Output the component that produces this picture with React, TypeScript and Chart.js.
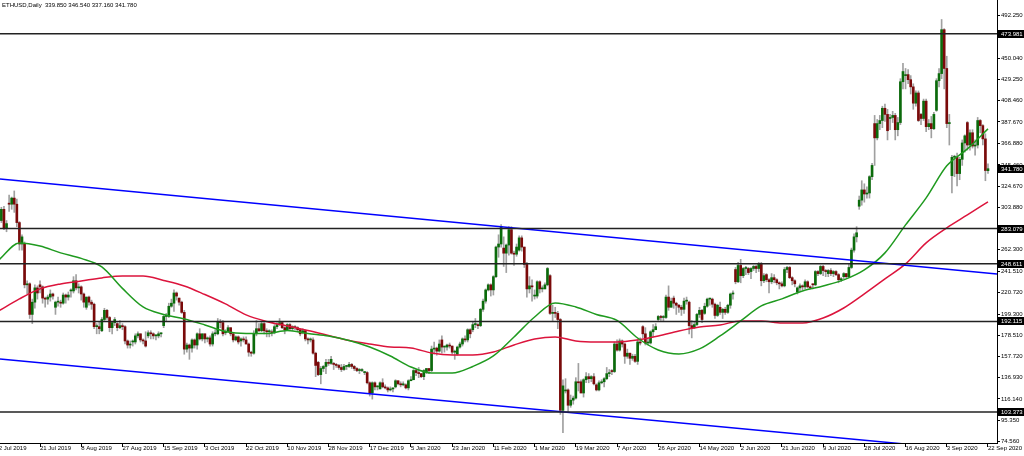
import React, { useEffect, useRef } from 'react';
import { Chart, registerables } from 'chart.js';

Chart.register(...registerables);

const symbolTitle = 'ETHUSD,Daily';
const dateLabels = ['2 Jul 2019', '21 Jul 2019', '8 Aug 2019', '27 Aug 2019', '15 Sep 2019', '3 Oct 2019', '22 Oct 2019', '10 Nov 2019', '28 Nov 2019', '17 Dec 2019', '5 Jan 2020', '23 Jan 2020', '11 Feb 2020', '1 Mar 2020', '19 Mar 2020', '7 Apr 2020', '26 Apr 2020', '14 May 2020', '2 Jun 2020', '21 Jun 2020', '9 Jul 2020', '28 Jul 2020', '16 Aug 2020', '3 Sep 2020', '22 Sep 2020'];
const barsPerLabel = 16;
const yTicks = [492.25, 471.46, 450.04, 429.25, 408.46, 387.67, 366.88, 345.46, 324.67, 303.88, 283.09, 262.3, 241.51, 220.72, 199.3, 178.51, 157.72, 136.93, 116.14, 95.35, 74.56];
const levels = [473.981, 283.079, 248.611, 192.115, 103.373];

const firstOpen = 293;
const lastOpen = 339.85;
// opens of the Sunday bars (bar 4, 10, 16, ...)
const sundayOpens = [308, 268, 228, 206, 222, 206, 183, 190, 172, 178, 188, 215, 174, 176, 181, 173, 180, 182, 184, 181, 152, 151, 148, 142, 126, 128, 134, 142, 174, 160, 184, 223, 264, 262, 217, 237, 124, 133, 130, 144, 158, 187, 194, 215, 211, 200, 206, 243, 241, 238, 229, 221, 229, 239, 236, 305, 386, 391, 433, 395, 399, 335, 387, 384];

const closes = [
  291, 302, 283, 288,
  307, 313, 307, 289, 268, 275,
  228, 229, 199, 211, 225, 220,
  226, 215, 214, 216, 219, 217,
  211, 211, 210, 218, 216, 218,
  222, 232, 225, 226, 219, 211,
  216, 211, 209, 187, 187, 185,
  194, 203, 196, 186, 191, 194,
  186, 188, 187, 173, 169, 169,
  172, 178, 180, 174, 173, 168,
  181, 180, 178, 178, 180, 180,
  197, 197, 207, 210, 220, 217,
  211, 201, 165, 169, 166, 174,
  169, 180, 175, 180, 175, 176,
  170, 180, 180, 192, 191, 180,
  182, 186, 180, 174, 177, 172,
  175, 174, 170, 162, 161, 180,
  185, 183, 190, 183, 182, 183,
  181, 187, 189, 191, 186, 184,
  189, 185, 187, 186, 184, 180,
  183, 175, 174, 174, 161, 149,
  140, 146, 148, 152, 151, 155,
  150, 149, 147, 145, 148, 148,
  150, 148, 146, 144, 144, 144,
  142, 132, 122, 132, 128, 128,
  132, 128, 127, 125, 126, 126,
  134, 131, 130, 130, 127, 134,
  135, 144, 142, 141, 138, 144,
  146, 144, 165, 166, 163, 170,
  167, 167, 169, 168, 162, 162,
  167, 170, 175, 174, 184, 180,
  189, 189, 188, 204, 212, 223,
  228, 223, 236, 265, 268, 285,
  259, 267, 282, 259, 258, 265,
  274, 265, 248, 224, 227, 226,
  217, 231, 224, 224, 228, 244,
  200, 201, 200, 194, 105, 129,
  125, 110, 115, 117, 133, 132,
  122, 135, 138, 136, 138, 131,
  125, 132, 133, 136, 141, 141,
  143, 170, 164, 173, 170, 158,
  161, 156, 158, 153, 172, 171,
  180, 171, 171, 182, 184, 187,
  197, 196, 196, 216, 206, 212,
  210, 208, 206, 204, 212, 212,
  188, 186, 189, 199, 203, 194,
  207, 214, 214, 209, 198, 208,
  201, 204, 201, 208, 219, 220,
  231, 247, 237, 244, 244, 240,
  244, 246, 244, 248, 232, 237,
  233, 231, 235, 233, 230, 229,
  227, 243, 245, 235, 232, 229,
  225, 227, 226, 231, 226, 225,
  228, 241, 239, 246, 242, 241,
  242, 239, 241, 238, 233, 233,
  239, 236, 245, 262, 275, 279,
  311, 321, 317, 318, 334, 345,
  372, 386, 389, 401, 395, 379,
  392, 394, 380, 387, 427, 437,
  434, 429, 422, 406, 416, 389,
  391, 408, 383, 386, 381, 395,
  428, 435, 478, 440, 386, 386,
  353, 353, 337, 351, 367, 374,
  365, 377, 364, 365, 389, 384,
  371, 340, 341.78,
];

const highs = [
  297, 304, 305, 291,
  316, 314, 320, 312, 290, 277,
  270, 232, 230, 214, 228, 227,
  232, 227, 216, 218, 223, 220,
  212, 216, 213, 220, 219, 221,
  224, 236, 238, 229, 227, 220,
  216, 217, 213, 210, 190, 192,
  196, 205, 204, 197, 192, 196,
  191, 193, 190, 188, 174, 173,
  174, 180, 182, 180, 175, 182,
  183, 183, 181, 179, 182, 181,
  198, 200, 210, 214, 223, 221,
  215, 212, 203, 171, 170, 175,
  175, 181, 185, 180, 180, 177,
  178, 182, 184, 195, 194, 193,
  184, 188, 186, 181, 178, 178,
  176, 177, 177, 171, 163, 183,
  193, 190, 192, 191, 185, 184,
  184, 189, 191, 195, 192, 187,
  190, 190, 188, 188, 187, 185,
  185, 184, 176, 176, 176, 162,
  153, 148, 149, 155, 155, 158,
  152, 151, 150, 150, 150, 149,
  152, 151, 149, 147, 146, 146,
  143, 143, 133, 133, 133, 129,
  133, 136, 130, 128, 128, 127,
  135, 134, 133, 133, 131, 135,
  138, 145, 145, 147, 141, 145,
  146, 146, 168, 172, 167, 174,
  178, 168, 170, 171, 168, 164,
  168, 172, 176, 178, 185, 185,
  192, 195, 190, 205, 214, 224,
  229, 229, 237, 266, 277, 287,
  275, 268, 285, 285, 261, 268,
  276, 276, 265, 250, 236, 233,
  223, 232, 232, 227, 230, 245,
  238, 208, 206, 202, 195, 135,
  136, 126, 120, 119, 137, 151,
  135, 136, 142, 141, 139, 141,
  131, 134, 135, 137, 147, 145,
  145, 172, 174, 175, 174, 171,
  165, 161, 160, 160, 175, 176,
  188, 186, 175, 183, 189, 190,
  198, 198, 198, 218, 227, 215,
  217, 211, 209, 208, 215, 216,
  212, 193, 192, 200, 206, 204,
  210, 215, 215, 215, 210, 209,
  211, 205, 206, 209, 220, 222,
  245, 250, 253, 245, 246, 245,
  245, 247, 247, 250, 250, 239,
  239, 234, 239, 238, 234, 231,
  231, 245, 246, 246, 236, 233,
  226, 229, 228, 233, 232, 227,
  229, 242, 242, 247, 247, 243,
  243, 244, 242, 242, 239, 235,
  240, 239, 248, 264, 278, 285,
  315, 330, 327, 324, 335, 347,
  394, 390, 394, 403, 405, 400,
  395, 398, 396, 392, 430, 445,
  440, 439, 433, 425, 418, 418,
  396, 410, 410, 390, 393, 397,
  430, 440, 488, 479, 452, 395,
  355, 355, 357, 353, 370, 375,
  388, 380, 380, 370, 392, 390,
  385, 376, 346.54,
];

const lows = [
  274, 289, 282, 280,
  300, 302, 299, 285, 262, 262,
  225, 219, 195, 190, 205, 214,
  220, 210, 206, 209, 212, 214,
  199, 207, 206, 209, 210, 213,
  216, 220, 223, 220, 213, 206,
  204, 208, 204, 185, 180, 180,
  182, 193, 194, 182, 180, 188,
  183, 185, 184, 170, 166, 166,
  168, 170, 176, 172, 170, 167,
  176, 175, 175, 174, 176, 177,
  186, 192, 196, 206, 202, 213,
  208, 200, 160, 162, 155, 162,
  166, 165, 174, 173, 171, 172,
  168, 168, 178, 179, 186, 178,
  179, 181, 178, 172, 173, 170,
  168, 172, 170, 158, 158, 160,
  178, 182, 182, 180, 177, 177,
  178, 180, 185, 188, 185, 180,
  183, 183, 183, 184, 182, 178,
  180, 173, 170, 172, 160, 138,
  139, 131, 143, 141, 149, 150,
  145, 147, 145, 143, 144, 145,
  147, 146, 144, 143, 141, 143,
  140, 131, 119, 116, 125, 125,
  126, 127, 126, 123, 124, 123,
  127, 130, 128, 129, 126, 125,
  134, 135, 139, 137, 137, 135,
  141, 141, 143, 160, 159, 162,
  161, 162, 164, 166, 160, 155,
  159, 166, 168, 172, 172, 176,
  182, 186, 185, 187, 202, 210,
  222, 217, 218, 235, 255, 265,
  246, 240, 257, 258, 247, 256,
  261, 261, 245, 216, 220, 212,
  214, 215, 220, 221, 224, 227,
  199, 193, 196, 185, 101, 83,
  122, 104, 108, 111, 116, 124,
  122, 118, 132, 132, 133, 130,
  124, 124, 131, 128, 135, 138,
  140, 142, 163, 163, 167, 151,
  156, 150, 154, 152, 150, 169,
  176, 169, 169, 170, 177, 184,
  192, 193, 192, 195, 203, 206,
  205, 199, 201, 198, 200, 209,
  180, 176, 185, 188, 196, 191,
  199, 206, 208, 206, 195, 197,
  199, 195, 199, 200, 205, 214,
  229, 230, 230, 235, 238, 238,
  234, 242, 240, 241, 227, 230,
  231, 220, 229, 230, 228, 224,
  226, 226, 240, 234, 228, 226,
  219, 222, 223, 224, 225, 224,
  224, 227, 237, 238, 237, 236,
  236, 237, 236, 237, 230, 231,
  234, 235, 235, 244, 260, 270,
  302, 306, 309, 313, 313, 331,
  345, 370, 380, 382, 388, 370,
  380, 387, 370, 374, 385, 420,
  420, 425, 415, 400, 403, 388,
  385, 389, 378, 380, 372, 380,
  398, 422, 430, 420, 382, 365,
  318, 334, 325, 331, 345, 358,
  360, 360, 362, 355, 362, 377,
  365, 330, 337.16,
];

// moving averages, sampled every 8 bars
const maBars = [0, 8, 16, 24, 32, 40, 48, 56, 64, 72, 80, 88, 96, 104, 112, 120, 128, 136, 144, 152, 160, 168, 176, 184, 192, 200, 208, 216, 224, 232, 240, 248, 256, 264, 272, 280, 288, 296, 304, 312, 320, 328, 336, 344, 352, 360, 368, 376, 384];
const greenMA = [252.4, 269.1, 266.1, 259.3, 253.9, 245.6, 224.5, 206.3, 199, 194.6, 188.7, 182.3, 180.3, 180.3, 183.3, 180.3, 177.9, 173.5, 167.1, 158.3, 147.5, 141.6, 141.6, 148, 158.3, 176.9, 196.5, 210.3, 206.3, 199, 193.1, 175.9, 164.2, 160.3, 165.2, 177.9, 192.6, 207.3, 214.2, 222, 226.9, 232.8, 242.6, 259.3, 286.7, 313.2, 344.6, 361.2, 380.8];
const redMA = [202.4, 214.2, 224, 228.9, 231.8, 234.8, 236.7, 236.7, 232.3, 226.9, 218.5, 209.3, 198.5, 192.1, 187.7, 183.3, 178.4, 173.5, 170, 167.1, 166.1, 161.2, 159.3, 159.3, 162.2, 169.1, 174.9, 176.9, 173, 172, 172, 174, 177.9, 182.8, 186.7, 188.7, 192.6, 192.6, 190.6, 190.6, 195.5, 205.3, 219.1, 233.8, 248.5, 269.1, 283.8, 296.5, 309.3];

// channel lines: [bar, price] end points
const upperTrend = [[0.466, 331.7], [387.5, 238.6]];
const lowerTrend = [[0.466, 155.3], [387.5, 63.5]];

const X_MIN = 0.466;
const X_MAX = 387.5;
const Y_MIN = 73.0;
const Y_MAX = 507.1;
const FONT = '"Liberation Sans", Arial, sans-serif';

export default function App() {
  const ref = useRef<HTMLCanvasElement | null>(null);

  useEffect(() => {
    document.body.style.margin = '0';
    const canvas = ref.current;
    if (!canvas) return;
    const last = closes.length - 1;
    const opens = closes.map((c, i) => {
      if (i === 0) return firstOpen;
      if (i === last) return lastOpen;
      if (i >= 4 && (i - 4) % 6 === 0) return sundayOpens[(i - 4) / 6];
      return closes[i - 1];
    });
    const wickData = closes.map((c, i) => ({
      x: i,
      y: [Math.min(lows[i], opens[i], c), Math.max(highs[i], opens[i], c)],
    }));
    const bodyData = closes.map((c, i) => ({ x: i, y: [opens[i], c] }));
    const bodyColors = closes.map((c, i) => (c >= opens[i] ? '#0b6b0b' : '#7a0a0a'));
    const title = `${symbolTitle}  ${lastOpen.toFixed(3)} ${highs[last].toFixed(3)} ${lows[last].toFixed(3)} ${closes[last].toFixed(3)}`;

    const lineDs = (data: { x: number; y: number }[], color: string, width: number, order: number, tension = 0) => ({
      type: 'line' as const,
      data,
      borderColor: color,
      borderWidth: width,
      pointRadius: 0,
      tension,
      cubicInterpolationMode: tension ? ('monotone' as const) : ('default' as const),
      fill: false,
      order,
      clip: 0,
    });

    const overlay = {
      id: 'overlay',
      afterDraw(chart: any) {
        const ctx = chart.ctx;
        const ys = chart.scales.y;
        ctx.save();
        ctx.font = `6px ${FONT}`;
        ctx.fillStyle = '#000';
        ctx.textBaseline = 'middle';
        ctx.textAlign = 'left';
        ctx.fillText(title, 2, 5);
        const boxes = [...levels, closes[last]];
        boxes.forEach((v) => {
          const y = ys.getPixelForValue(v);
          ctx.fillStyle = '#000';
          ctx.fillRect(998, Math.round(y) - 4, 26, 8);
          ctx.fillStyle = '#fff';
          ctx.fillText(v.toFixed(3), 1001, Math.round(y) + 0.5);
        });
        ctx.restore();
      },
    };

    const chart = new Chart(canvas, {
      type: 'bar',
      data: {
        datasets: [
          ...levels.map((v) => lineDs([{ x: X_MIN, y: v }, { x: X_MAX, y: v }], '#222', 1.5, 1)),
          lineDs(upperTrend.map(([x, y]) => ({ x, y })), '#0000ff', 1.5, 1),
          lineDs(lowerTrend.map(([x, y]) => ({ x, y })), '#0000ff', 1.5, 1),
          lineDs(maBars.map((b, i) => ({ x: b, y: greenMA[i] })), '#1f9a1f', 1.5, 2, 0.4),
          lineDs(maBars.map((b, i) => ({ x: b, y: redMA[i] })), '#dc143c', 1.5, 2, 0.4),
          {
            type: 'bar' as const,
            data: bodyData as any,
            backgroundColor: bodyColors,
            borderWidth: 0,
            barThickness: 2,
            minBarLength: 1,
            grouped: false,
            order: 9,
          },
          {
            type: 'bar' as const,
            data: wickData as any,
            backgroundColor: '#a0a0a0',
            borderWidth: 0,
            barThickness: 1,
            grouped: false,
            order: 10,
          },
        ] as any,
      },
      options: {
        responsive: false,
        animation: false,
        devicePixelRatio: 1,
        events: [],
        layout: { padding: 0 },
        plugins: { legend: { display: false }, tooltip: { enabled: false }, title: { display: false } },
        scales: {
          x: {
            type: 'linear',
            min: X_MIN,
            max: X_MAX,
            offset: false,
            afterBuildTicks: (s: any) => {
              s.ticks = dateLabels.map((_, i) => ({ value: i * barsPerLabel }));
            },
            afterFit: (s: any) => {
              s.height = 13;
              s.paddingLeft = 0;
              s.paddingRight = 0;
            },
            ticks: {
              autoSkip: false,
              maxRotation: 0,
              minRotation: 0,
              align: 'start',
              padding: -2,
              color: '#000',
              font: { family: FONT, size: 6 },
              callback: (_v: any, i: number) => dateLabels[i] ?? '',
            },
            grid: { drawOnChartArea: false, drawTicks: true, tickLength: 4, color: '#000', offset: false },
            border: { display: true, color: '#000', width: 1 },
          },
          y: {
            type: 'linear',
            position: 'right',
            min: Y_MIN,
            max: Y_MAX,
            afterBuildTicks: (s: any) => {
              s.ticks = yTicks.map((v) => ({ value: v }));
            },
            afterFit: (s: any) => {
              s.width = 27;
              s.paddingTop = 0;
              s.paddingBottom = 0;
            },
            ticks: {
              autoSkip: false,
              padding: 1,
              color: '#000',
              font: { family: FONT, size: 6 },
              callback: (v: any) => Number(v).toFixed(3),
            },
            grid: { drawOnChartArea: false, drawTicks: true, tickLength: 3, color: '#000' },
            border: { display: true, color: '#000', width: 1 },
          },
        },
      } as any,
      plugins: [overlay],
    });
    return () => chart.destroy();
  }, []);

  return (
    <div style={{ width: 1024, height: 456, background: '#fff' }}>
      <canvas ref={ref} width={1024} height={456} style={{ display: 'block' }} />
    </div>
  );
}
